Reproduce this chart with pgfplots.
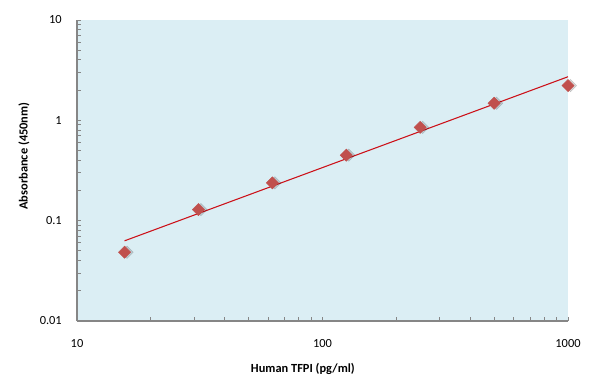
\documentclass[border=0pt]{standalone}
\usepackage{pgfplots}
\pgfplotsset{compat=1.18}
\usepackage{fontspec}
\setmainfont{Carlito}
\definecolor{bgblue}{HTML}{DBEEF4}
\definecolor{mk}{HTML}{C0504D}
\definecolor{trend}{RGB}{204,16,24}
\definecolor{axgray}{HTML}{868686}
\begin{document}
\begin{tikzpicture}
\begin{axis}[
  name=ax,
  scale only axis,
  width=368.25pt, height=225.75pt,
  xmode=log, ymode=log,
  xmin=10, xmax=1000, ymin=0.01, ymax=10,
  axis x line=bottom, axis y line=left,
  axis line style={-, draw=axgray, line width=0.9pt},
  axis background/.style={fill=bgblue},
  xtick={10,100,1000}, xticklabels={10,100,1000},
  ytick={0.01,0.1,1,10}, yticklabels={0.01,0.1,1,10},
  minor xtick={20,30,40,50,60,70,80,90,200,300,400,500,600,700,800,900},
  minor ytick={0.02,0.03,0.04,0.05,0.06,0.07,0.08,0.09,0.2,0.3,0.4,0.5,0.6,0.7,0.8,0.9,2,3,4,5,6,7,8,9},
  tick align=inside,
  major tick length=3pt, minor tick length=3pt,
  tick style={draw=axgray, line width=0.7pt},
  /pgf/number format/assume math mode=true,
  tick label style={font=\fontsize{9.3}{11}\selectfont, text=black},
  xticklabel style={yshift=-10.2pt},
  yticklabel style={xshift=-7.9pt},
  xlabel={\textbf{Human TFPI (pg/ml)}},
  ylabel={\textbf{Absorbance (450nm)}},
  label style={font=\fontsize{9.3}{11}\selectfont},
  xlabel style={at={(axis description cs:0.46,-0.158)}, anchor=center},
  ylabel style={at={(axis description cs:-0.108,0.548)}, anchor=center, rotate=0},
  clip=false,
]
% shadow
\addplot[only marks, mark=square*, mark size=3.3pt,
  mark options={rotate=45, fill=black, draw=none, opacity=0.14, xshift=1.3pt, yshift=-1.3pt}]
  coordinates {(15.625,0.0485) (31.25,0.129) (62.5,0.238) (125,0.45) (250,0.851) (500,1.48) (1000,2.22)};
% trend line
\addplot[trend, line width=0.8pt, no marks] coordinates {(15.625,0.063) (1000,2.72)};
% data
\addplot[only marks, mark=square*, mark size=3.2pt,
  mark options={rotate=45, fill=mk, draw=mk}]
  coordinates {(15.625,0.0485) (31.25,0.129) (62.5,0.238) (125,0.45) (250,0.851) (500,1.48) (1000,2.22)};
\end{axis}
\pgfresetboundingbox
\path (ax.south west) ++(-57.75pt,-51.75pt) rectangle ++(447pt,292.5pt);
\end{tikzpicture}
\end{document}
